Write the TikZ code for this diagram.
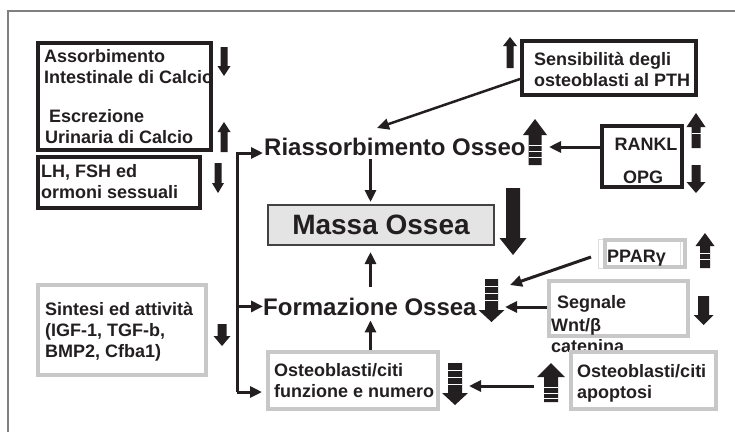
\documentclass[tikz,border=0pt]{standalone}
\usepackage{fontspec}
\setmainfont{Liberation Sans}
\usetikzlibrary{arrows.meta}
\definecolor{ink}{HTML}{231F20}
\definecolor{boxgray}{HTML}{C8C8C8}
\definecolor{massfill}{HTML}{E4E4E4}
% block arrow: x, tail y, head base y, tip y, half shaft, half head
\newcommand{\barrow}[6]{\fill[ink] (#1-#5,#2) -- (#1-#5,#3) -- (#1-#6,#3) -- (#1,#4) -- (#1+#6,#3) -- (#1+#5,#3) -- (#1+#5,#2) -- cycle;}
% white bands across a shaft: x, half shaft, list of y
\newcommand{\bstripes}[3]{\foreach \sy in {#3} \draw[white, line width=0.9pt] (#1-#2,\sy) -- (#1+#2,\sy);}
\tikzset{
    blackbox/.style 2 args={draw=ink, line width=4pt, minimum width=#1pt, minimum height=#2pt, inner sep=0pt},
    graybox/.style 2 args={draw=boxgray, line width=4pt, minimum width=#1pt, minimum height=#2pt, inner sep=0pt},
    txt/.style={font=\bfseries\fontsize{18}{21}\selectfont, text=ink, inner sep=0pt, anchor=base west, align=left},
    bigtxt/.style={font=\bfseries\fontsize{24}{28}\selectfont, text=ink, inner sep=0pt, anchor=base west},
    conn/.style={draw=ink, line width=3pt, -{Triangle[width=11pt,length=12pt]}}
}
\begin{document}
\begin{tikzpicture}[x=1pt, y=-1pt]
    \useasboundingbox (0,0) rectangle (735,432);
    \draw[gray, line width=2pt] (735,11) -- (8,11) -- (8,432);
    % left column (multi-line texts sit on their last baseline)
    \node[blackbox={173}{107}] (absorb) at (124.5,96.5) {};
    \node[txt] (absorbT) at (44,83) {Assorbimento\\Intestinale di Calcio};
    \node[txt] (excrT) at (45,143) {\hspace*{4pt}Escrezione\\Urinaria di Calcio};
    \node[blackbox={162}{51}] (lh) at (119,182.5) {};
    \node[txt] (lhT) at (41,198) {LH, FSH ed\\ormoni sessuali};
    \node[graybox={168}{90}] (sint) at (122,330) {};
    \node[txt] (sintT) at (45,357) {Sintesi ed attività\\(IGF-1, TGF-b,\\BMP2, Cfba1)};
    \barrow{224}{47}{66}{76}{3.5}{6.5}
    \barrow{224}{152}{132}{122}{3.5}{6.5}
    \barrow{218}{163}{183}{193}{3.5}{6}
    \barrow{222}{324}{336}{346}{4.5}{8.5}
    % centre
    \node[bigtxt] (riass) at (264,155) {Riassorbimento Osseo};
    \node[bigtxt] (form) at (263,315) {Formazione Ossea};
    \node[draw=ink!85, line width=2pt, fill=massfill, minimum width=226pt, minimum height=40pt,
          font=\bfseries\fontsize{28}{31}\selectfont, text=ink] (massa) at (381,225) {Massa Ossea};
    \node[graybox={170}{57}] (funz) at (353,380.5) {};
    \node[txt] (funzT) at (274,397) {Osteoblasti/citi\\funzione e numero};
    \barrow{513}{188}{238}{255}{7}{13.5}
    \barrow{535}{165}{135}{119}{6.5}{12}
    \bstripes{535}{6.5}{145,151,157}
    \barrow{491.5}{279}{310}{322}{6.5}{13}
    \bstripes{491.5}{6.5}{286,293,300}
    \barrow{455}{363}{393}{405}{7}{13}
    \bstripes{455}{7}{370,377,384}
    % right column
    \node[blackbox={174}{54}] (sens) at (609,68) {};
    \node[txt] (sensT) at (534,86) {Sensibilità degli\\osteoblasti al PTH};
    \barrow{510}{68}{46}{37}{3.5}{7}
    \node[blackbox={80}{61}] (rankl) at (642,156.5) {};
    \node[txt, anchor=base] (ranklT) at (646,150) {RANKL};
    \node[txt, anchor=base] (opgT) at (643,183) {OPG};
    \barrow{696}{148}{127}{113}{4.5}{9.5}
    \bstripes{696}{4.5}{133}
    \barrow{696}{165}{182}{193}{4.5}{9.5}
    \draw[boxgray!60, line width=1pt] (598.5,239.5) rectangle (680,268.5);
    \node[graybox={80}{27}] (ppar) at (645,253.5) {};
    \node[txt] (pparT) at (607,262) {PPARγ};
    \barrow{705}{268}{246}{233}{5}{9.5}
    \bstripes{705}{5}{253,259}
    \node[graybox={139}{55}] (segn) at (618.5,308.5) {};
    \node[txt] (segnT) at (557,308) {Segnale};
    \node[txt] (wntT) at (551,352) {Wnt/β\\catenina};
    \barrow{703.5}{296}{315}{325}{5.5}{10}
    \node[graybox={145}{57}] (apopt) at (643.5,380.5) {};
    \node[txt] (apoptT) at (577,398) {Osteoblasti/citi\\apoptosi};
    \barrow{551}{402}{377}{363}{7}{14}
    \bstripes{551}{7}{387,393,398}
    % connectors
    \coordinate (ax) at (370.5,0);
    \coordinate (resTop) at (377,128);
    \coordinate (resSide) at (549,147);
    \coordinate (formArr) at (510,285);
    \coordinate (formSide) at (505,307);
    \coordinate (funzSide) at (469,386);
    \coordinate (apoptTail) at (534,386);
    \coordinate (bus) at (237,392);
    \draw[conn, shorten >=2pt] ([yshift=-4pt]riass.south -| ax) -- (massa.north -| ax);
    \draw[conn, shorten >=6pt] ([yshift=10pt]form.north -| ax) -- (massa.south -| ax);
    \draw[conn, shorten >=5pt] (funz.north -| ax) -- (form.south -| ax);
    \draw[conn, line width=2.5pt] ([yshift=-11pt]sens.west) -- (resTop);
    \draw[conn] (rankl.west |- resSide) -- (resSide);
    \draw[conn] ([xshift=-12pt, yshift=-3.5pt]ppar.west) -- (formArr);
    \draw[conn] (segn.west |- formSide) -- (formSide);
    \draw[conn] (apoptTail) -- (funzSide);
    \draw[conn, shorten >=1pt] (bus) |- ([yshift=2pt]riass.base west);
    \draw[conn] (bus |- form.west) -- (form.west);
    \draw[conn, shorten >=4pt] (bus) -- (bus -| funz.west);
\end{tikzpicture}
\end{document}
